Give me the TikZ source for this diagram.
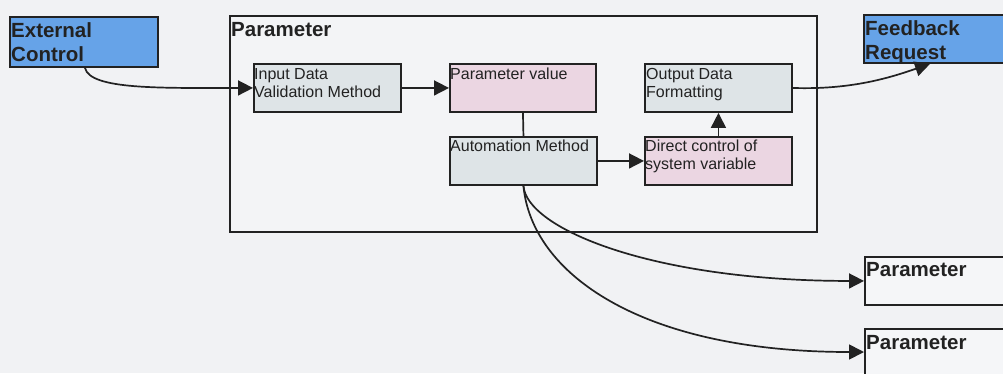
\documentclass[tikz,border=0pt]{standalone}
\usepackage{fontspec}
\setmainfont{Liberation Sans}
\usetikzlibrary{arrows.meta,calc}
\definecolor{pagebg}{RGB}{241,242,244}
\definecolor{extblue}{RGB}{102,163,232}
\definecolor{methodfill}{RGB}{222,228,231}
\definecolor{valuefill}{RGB}{235,214,226}
\definecolor{inkline}{RGB}{34,34,34}
\definecolor{plainfill}{RGB}{245,246,248}
\definecolor{groupfill}{RGB}{243,244,246}
\tikzset{
  box/.style={draw=inkline, line width=1.9pt, rectangle, inner sep=0pt, anchor=north west},
  extbox/.style={box, fill=extblue},
  methodbox/.style={box, fill=methodfill, minimum width=147pt, minimum height=48pt},
  valuebox/.style={box, fill=valuefill, minimum width=147pt, minimum height=48pt},
  plainbox/.style={box, fill=plainfill},
  titletext/.style={anchor=north west, inner sep=0pt, align=left, text=inkline,
    font=\fontsize{20.5}{24}\selectfont\bfseries},
  bodytext/.style={anchor=north west, inner sep=0pt, align=left, text=inkline,
    font=\fontsize{16}{18}\selectfont},
  link/.style={draw=inkline, line width=1.7pt},
  flow/.style={link, -{Triangle[length=15pt,width=15pt]}},
}
\begin{document}
\begin{tikzpicture}[x=1pt,y=-1pt]
  % page
  \fill[pagebg] (0,0) rectangle (1003,373);
  \useasboundingbox (0,0) rectangle (1003,373);
  \clip (0,0) rectangle (1003,373);

  % outer parameter container
  \node[box, fill=groupfill, minimum width=587pt, minimum height=216pt] (outer) at (229,15) {};
  \node[titletext] (outerT) at (231,22) {Parameter};

  % external ends
  \node[extbox, minimum width=148pt, minimum height=50pt] (ext) at (9,16) {};
  \node[titletext] (extT) at (11,22) {External\\Control};

  \node[extbox, minimum width=160pt, minimum height=48pt] (fb) at (863,14) {};
  \node[titletext] (fbT) at (865,20) {Feedback\\Request};

  % inner blocks
  \node[methodbox] (inp) at (253,63) {};
  \node[bodytext] (inpT) at (254,68) {Input Data\\Validation Method};

  \node[valuebox, minimum width=146pt] (val) at (449,63) {};
  \node[bodytext] (valT) at (450,68) {Parameter value};

  \node[methodbox] (auto) at (449,136) {};
  \node[bodytext] (autoT) at (450,140) {Automation Method};

  \node[methodbox] (outp) at (644,63) {};
  \node[bodytext] (outpT) at (646,68) {Output Data\\Formatting};

  \node[valuebox] (dir) at (644,136) {};
  \node[bodytext] (dirT) at (645,140) {Direct control of\\system variable};

  % downstream parameters
  \node[plainbox, minimum width=160pt, minimum height=48pt] (p1) at (864,256) {};
  \node[titletext] (p1T) at (866,262) {Parameter};

  \node[plainbox, minimum width=160pt, minimum height=60pt] (p2) at (864,328) {};
  \node[titletext] (p2T) at (866,335) {Parameter};

  % connectors
  \draw[flow] ($(ext.south west)+(76,0)$) .. controls +(5,22) and +(-92,0) .. (inp.west);
  \draw[flow] (inp.east) -- (val.west);
  \draw[link] (val.south) -- (auto.north);
  \draw[flow] (auto.east) -- (dir.west);
  \draw[flow] (dir.north) -- (outp.north |- outp.south);
  \draw[flow] (outp.east) .. controls +(60,2) and +(-38,13) .. ($(fb.south west)+(67,0)$);
  \draw[flow] (auto.south) .. controls +(3,42) and +(-214,0) .. (p1.west);
  \draw[flow] (auto.south) .. controls +(8,87) and +(-224,0) .. ($(p2.north west)+(0,24)$);
\end{tikzpicture}
\end{document}
